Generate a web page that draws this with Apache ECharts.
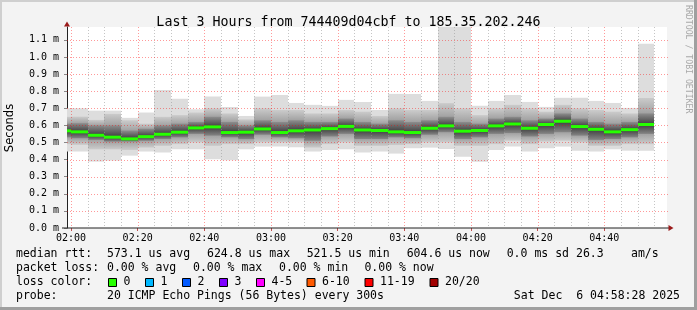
<!DOCTYPE html>
<html>
<head>
<meta charset="utf-8">
<script src="https://cdn.jsdelivr.net/npm/echarts@6/dist/echarts.min.js"></script>
<style>
html,body{margin:0;padding:0;background:#f3f3f3;}
#c{width:697px;height:310px;}
</style>
</head>
<body>
<div id="c"></div>
<script>
// ---- data (round-trip times in milliseconds; 5-minute steps) ----
const barStarts = ["01:55","02:00","02:05","02:10","02:15","02:20","02:25","02:30","02:35","02:40","02:45","02:50",
  "02:55","03:00","03:05","03:10","03:15","03:20","03:25","03:30","03:35","03:40","03:45","03:50",
  "03:55","04:00","04:05","04:10","04:15","04:20","04:25","04:30","04:35","04:40","04:45","04:50"];
const stepMinutes = 5;
const rttMin = [0.447,0.447,0.388,0.394,0.423,0.447,0.441,0.460,0.460,0.402,0.396,0.460,
  0.476,0.476,0.472,0.447,0.456,0.460,0.441,0.447,0.435,0.466,0.470,0.462,
  0.417,0.388,0.456,0.476,0.447,0.466,0.476,0.452,0.447,0.460,0.452,0.452];
const rttP10 = [0.490,0.486,0.460,0.460,0.456,0.470,0.480,0.490,0.500,0.480,0.490,0.490,
  0.500,0.500,0.500,0.470,0.490,0.500,0.480,0.480,0.485,0.490,0.500,0.500,
  0.480,0.480,0.490,0.510,0.490,0.505,0.510,0.500,0.480,0.480,0.490,0.490];
const rttP25 = [0.530,0.525,0.515,0.505,0.505,0.510,0.520,0.530,0.550,0.540,0.530,0.520,
  0.545,0.530,0.525,0.510,0.535,0.550,0.520,0.520,0.530,0.525,0.545,0.560,
  0.520,0.530,0.550,0.555,0.535,0.550,0.560,0.540,0.515,0.520,0.530,0.550];
const rttMedian = [0.568,0.562,0.542,0.531,0.521,0.534,0.548,0.560,0.585,0.591,0.558,0.560,
  0.579,0.558,0.568,0.573,0.581,0.594,0.573,0.570,0.562,0.558,0.583,0.597,
  0.566,0.570,0.597,0.608,0.583,0.605,0.624,0.593,0.577,0.562,0.575,0.605];
const rttP75 = [0.610,0.613,0.600,0.600,0.570,0.580,0.600,0.610,0.620,0.650,0.620,0.600,
  0.630,0.620,0.630,0.620,0.620,0.640,0.620,0.610,0.630,0.620,0.630,0.650,
  0.620,0.610,0.640,0.650,0.630,0.640,0.670,0.640,0.620,0.610,0.620,0.670];
const rttP90 = [0.650,0.651,0.632,0.667,0.630,0.610,0.650,0.660,0.675,0.700,0.670,0.635,
  0.700,0.690,0.690,0.670,0.670,0.690,0.680,0.655,0.700,0.690,0.690,0.730,
  0.700,0.660,0.700,0.720,0.700,0.680,0.720,0.700,0.690,0.680,0.670,0.760];
const rttMax = [0.700,0.700,0.686,0.686,0.644,0.675,0.807,0.755,0.694,0.768,0.708,0.655,
  0.768,0.778,0.731,0.720,0.714,0.749,0.737,0.690,0.784,0.784,0.743,1.180,
  1.180,0.714,0.743,0.778,0.737,0.708,0.761,0.761,0.743,0.731,0.702,1.077];

const xLabelTimes = ["02:00","02:20","02:40","03:00","03:20","03:40","04:00","04:20","04:40"];
const xMinorTimes = ["02:00","02:05","02:10","02:15","02:20","02:25","02:30","02:35","02:40","02:45","02:50","02:55",
  "03:00","03:05","03:10","03:15","03:20","03:25","03:30","03:35","03:40","03:45","03:50","03:55",
  "04:00","04:05","04:10","04:15","04:20","04:25","04:30","04:35","04:40","04:45","04:50","04:55"];
const yTicks = [0,0.1,0.2,0.3,0.4,0.5,0.6,0.7,0.8,0.9,1.0,1.1];
const xRange = ["01:58:48","04:58:48"];
const yMax = 1.175;

const lossLabels = ["0","1","2","3","4-5","6-10","11-19","20/20"];
const lossColors = ["#26ff00","#00b8ff","#0059ff","#7e00ff","#ff00ff","#ff5a00","#ff0000","#a10000"];

// ---- helpers ----
function toMin(t){const p=t.split(':').map(Number);return p[0]*60+p[1]+(p[2]||0)/60;}
function fmt(v){const h=Math.floor(v/60+1e-9), m=Math.round(v-h*60);return String(h).padStart(2,'0')+':'+String(m).padStart(2,'0');}

const smokeData = barStarts.map((t,i)=>[toMin(t),toMin(t)+stepMinutes,rttMin[i],rttP10[i],rttP25[i],rttMedian[i],rttP75[i],rttP90[i],rttMax[i]]);
const majorSet = new Set(xLabelTimes.map(toMin));
const vGridData = xMinorTimes.map(t=>[toMin(t),0,majorSet.has(toMin(t))?1:0]);
const hGridData = yTicks.filter(v=>v>0).map(v=>[toMin(xRange[0]),v]);

const MONO='"DejaVu Sans Mono", monospace';
const chart = echarts.init(document.getElementById('c'), null, {renderer:'canvas'});

function clip(r, cs){return echarts.graphic.clipRectByRect(r,{x:cs.x,y:cs.y,width:cs.width,height:cs.height});}
function clamp01(v){return Math.max(0,Math.min(1,v));}

function smokeItem(params, api){
  const cs=params.coordSys;
  const s=api.value(0), e=api.value(1);
  const yOf=v=>api.coord([s,v])[1];
  const yMed=yOf(api.value(5)), y25=yOf(api.value(4)), y75=yOf(api.value(6));
  const band=(lo,hi,fillFn)=>{
    const p0=api.coord([s,hi]), p1=api.coord([e,lo]);
    const x0=Math.round(p0[0]), x1=Math.round(p1[0]);
    const r=clip({x:x0,y:p0[1],width:x1-x0,height:p1[1]-p0[1]},cs);
    if(!r) return null;
    return {type:'rect',shape:r,style:{fill:fillFn(r)}};
  };
  const off=(r,y)=>clamp01((y-r.y)/r.height);
  const outer=band(api.value(2),api.value(8),()=> '#dddddd');
  const mid=band(api.value(3),api.value(7),r=>new echarts.graphic.LinearGradient(0,0,0,1,[
    {offset:0,color:'#cbcbcb'},{offset:off(r,y75),color:'#a2a2a2'},
    {offset:off(r,y25),color:'#a2a2a2'},{offset:1,color:'#cbcbcb'}]));
  const inner=band(api.value(4),api.value(6),r=>new echarts.graphic.LinearGradient(0,0,0,1,[
    {offset:0,color:'#8e8e8e'},{offset:off(r,yMed),color:'#3e3e3e'},{offset:1,color:'#858585'}]));
  return {type:'group',children:[outer,mid,inner].filter(Boolean)};
}
function medianItem(params, api){
  const cs=params.coordSys;
  const s=api.value(0), e=api.value(1);
  const p0=api.coord([s,api.value(5)]), p1=api.coord([e,api.value(5)]);
  const x0=Math.round(p0[0]), x1=Math.round(p1[0]);
  const r=clip({x:x0,y:p0[1]-1.5,width:x1-x0,height:3},cs);
  return r?{type:'rect',shape:r,style:{fill:'#26ff00'}}:null;
}
function vGridItem(params, api){
  const cs=params.coordSys;
  const x=Math.round(api.coord([api.value(0),0])[0])+0.5;
  const major=api.value(2)===1;
  return {type:'line',shape:{x1:x,y1:cs.y,x2:x,y2:cs.y+cs.height},
    style:{stroke:major?'rgba(255,0,0,0.4)':'rgba(150,150,150,0.55)',lineWidth:1,lineDash:[1,2]}};
}
function hGridItem(params, api){
  const cs=params.coordSys;
  const y=Math.round(api.coord([api.value(0),api.value(1)])[1])+0.5;
  return {type:'line',shape:{x1:cs.x,y1:y,x2:cs.x+cs.width+2,y2:y},
    style:{stroke:'rgba(255,0,0,0.4)',lineWidth:1,lineDash:[1,2]}};
}

const graphics = [
  {type:'rect',shape:{x:0,y:0,width:697,height:310},style:{fill:'#f3f3f3'},z:-10,silent:true},
  {type:'rect',shape:{x:0,y:0,width:697,height:2},style:{fill:'#cfcfcf'},z:-9},
  {type:'rect',shape:{x:0,y:0,width:2,height:310},style:{fill:'#cfcfcf'},z:-9},
  {type:'rect',shape:{x:0,y:307,width:697,height:3},style:{fill:'#9f9f9f'},z:-9},
  {type:'rect',shape:{x:694,y:0,width:3,height:310},style:{fill:'#9f9f9f'},z:-9},
  {type:'rect',shape:{x:67,y:27,width:600,height:201},style:{fill:'#ffffff'},z:-8},
  {type:'polygon',shape:{points:[[67,21.5],[64,26.5],[70,26.5]]},style:{fill:'#9b1b1b'},z:20},
  {type:'polygon',shape:{points:[[673.5,228],[668.5,225],[668.5,231]]},style:{fill:'#9b1b1b'},z:20},
  {type:'rect',shape:{x:62,y:227.5,width:607,height:1},style:{fill:'#222'},z:19},
  {type:'text',x:10,y:128,rotation:Math.PI/2,style:{text:'Seconds',fontFamily:'"DejaVu Sans", sans-serif',fontSize:11.5,fill:'#000',align:'center',verticalAlign:'middle'}},
  {type:'text',x:688,y:5,rotation:-Math.PI/2,style:{text:'RRDTOOL / TOBI OETIKER',fontFamily:MONO,fontSize:8.2,fill:'#a8a8a8',align:'left',verticalAlign:'middle'}}
];
function txt(s,x,y,align){graphics.push({type:'text',x:x,y:y,style:{text:s,fontFamily:MONO,fontSize:11.5,fill:'#000',align:align||'left',verticalAlign:'middle'}});}
txt('median rtt:',16,254.5);
txt('573.1 us avg',107,254.5); txt('624.8 us max',207,254.5); txt('521.5 us min',306.7,254.5);
txt('604.6 us now',406.7,254.5); txt('0.0 ms sd',506.7,254.5); txt('26.3',576,254.5); txt('am/s',631,254.5);
txt('packet loss:',16,268.5);
txt('0.00 % avg',107,268.5); txt('0.00 % max',193,268.5); txt('0.00 % min',279,268.5); txt('0.00 % now',364.4,268.5);
txt('loss color:',16,282.5);
const boxX=[108.5,145.5,182.5,219.5,256.5,307,365,430];
lossLabels.forEach((l,i)=>{
  graphics.push({type:'rect',shape:{x:boxX[i],y:278.5,width:8,height:8},style:{fill:lossColors[i],stroke:'#000',lineWidth:1}});
  txt(l,boxX[i]+15,282.5);
});
txt('probe:',16,296.5);
txt('20 ICMP Echo Pings (56 Bytes) every 300s',107,296.5);
txt('Sat Dec  6 04:58:28 2025',680,296.5,'right');

chart.setOption({
  animation:false,
  backgroundColor:'#f3f3f3',
  title:{text:'Last 3 Hours from 744409d04cbf to 185.35.202.246',left:'center',top:11,
    textStyle:{fontFamily:MONO,fontSize:13.3,fontWeight:'normal',color:'#000'}},
  grid:{left:67,top:27,width:600,height:201,containLabel:false},
  xAxis:{type:'value',min:toMin(xRange[0]),max:toMin(xRange[1]),
    axisLine:{show:false},
    splitLine:{show:false},
    axisTick:{show:true,length:3,lineStyle:{color:'#c05050'},customValues:xLabelTimes.map(toMin)},
    axisLabel:{customValues:xLabelTimes.map(toMin),formatter:fmt,fontFamily:MONO,fontSize:10,color:'#000',margin:5}},
  yAxis:{type:'value',min:0,max:yMax,interval:0.1,
    axisLine:{show:true,lineStyle:{color:'#222',width:1}},
    splitLine:{show:false},
    axisTick:{show:true,length:3,lineStyle:{color:'#888'},customValues:yTicks},
    axisLabel:{customValues:yTicks,formatter:v=>v.toFixed(1)+' m',fontFamily:MONO,fontSize:10,color:'#000',margin:8}},
  graphic:graphics,
  series:[
    {type:'custom',name:'smoke',renderItem:smokeItem,data:smokeData,encode:{x:[0,1],y:[2,3,4,5,6,7,8]},z:2,silent:true},
    {type:'custom',name:'vgrid',renderItem:vGridItem,data:vGridData,encode:{x:0,y:1},z:3,silent:true},
    {type:'custom',name:'hgrid',renderItem:hGridItem,data:hGridData,encode:{x:0,y:1},z:3,silent:true},
    {type:'custom',name:'median',renderItem:medianItem,data:smokeData,encode:{x:[0,1],y:5},z:4,silent:true}
  ]
});
</script>
</body>
</html>
